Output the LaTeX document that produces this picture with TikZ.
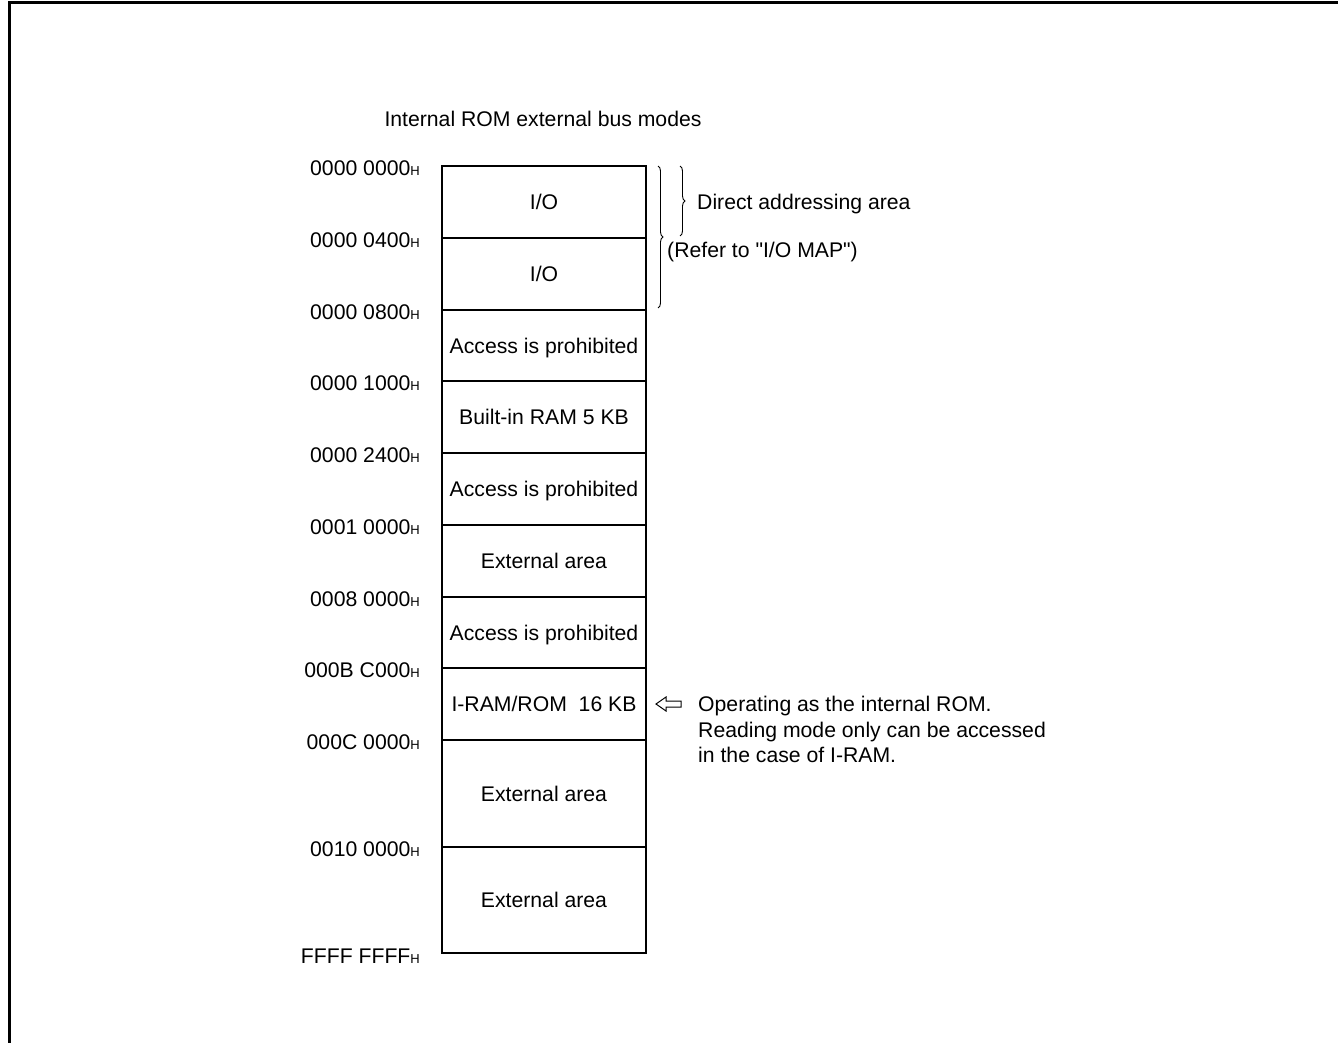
\documentclass[tikz,border=0pt]{standalone}
\usepackage{fontspec}
\setmainfont{Liberation Sans}
\usetikzlibrary{positioning, calc, decorations.pathreplacing}

\newcommand{\memfont}{\fontsize{21.2}{25.5}\selectfont}
\newcommand{\hsub}{{\fontsize{13}{13}\selectfont H}}

\tikzset{
  memrow/.style={draw, line width=1.6pt, minimum width=204pt, inner sep=0pt, outer sep=0pt,
                 text height=15pt, text depth=0pt, font=\memfont},
  addr/.style={anchor=east, inner sep=0pt, font=\memfont},
  note/.style={inner sep=0pt, font=\memfont, align=left},
  bracedeco/.style={decorate, decoration={brace, amplitude=5pt}, line width=0.9pt},
}

\begin{document}
\begin{tikzpicture}[x=1pt, y=-1pt]
    \useasboundingbox (0,0) rectangle (1338,1043);

    % Frame
    \draw[line width=3pt] (9,1060) -- (9,3) -- (1350,3);

    % Title
    \node[font=\memfont, inner sep=0pt] (title) at (543,119) {Internal ROM external bus modes};

    % Memory rows
    \node[memrow, minimum height=72pt] (r1) at (544,202) {I/O};
    \node[memrow, minimum height=72pt, below=0pt of r1] (r2) {I/O};
    \node[memrow, minimum height=71pt, below=0pt of r2] (r3) {Access is prohibited};
    \node[memrow, minimum height=72pt, below=0pt of r3] (r4) {Built-in RAM 5 KB};
    \node[memrow, minimum height=72pt, below=0pt of r4] (r5) {Access is prohibited};
    \node[memrow, minimum height=72pt, below=0pt of r5] (r6) {External area};
    \node[memrow, minimum height=71pt, below=0pt of r6] (r7) {Access is prohibited};
    \node[memrow, minimum height=72pt, below=0pt of r7] (r8) {I-RAM/ROM\ \ 16 KB};
    \node[memrow, minimum height=107pt, below=0pt of r8] (r9) {External area};
    \node[memrow, minimum height=106pt, below=0pt of r9] (r10) {External area};

    % Outer border
    \draw[line width=2.8pt] (r1.north west) rectangle (r10.south east);

    % Addresses
    \foreach \r/\addr in {r1/0000 0000, r2/0000 0400, r3/0000 0800, r4/0000 1000, r5/0000 2400,
                          r6/0001 0000, r7/0008 0000, r8/000B C000, r9/000C 0000, r10/0010 0000} {
        \node[addr] (a-\r) at ([xshift=-22pt, yshift=-2.5pt]\r.north west) {\addr\hsub};
    }
    \node[addr] (a-end) at ([xshift=-22pt, yshift=-3pt]r10.south west) {FFFF FFFF\hsub};

    % Braces
    \draw[bracedeco] ([xshift=12pt]r1.north east) -- ([xshift=12pt, yshift=2pt]r2.south east);
    \draw[bracedeco] ([xshift=34pt]r1.north east) -- ([xshift=34pt, yshift=2pt]r1.south east);
    \node[note, anchor=west] (direct) at (697,204) {Direct addressing area};
    \node[note, anchor=west] (refer) at (667,252) {(Refer to \textquotedbl I/O MAP\textquotedbl)};

    % Hollow arrow
    \draw[line width=1pt] ($(r8.east)+(10,0)$) coordinate (tip) -- ++(10,-7) -- ++(0,4) -- ++(15,0)
        -- ++(0,6) -- ++(-15,0) -- ++(0,4) -- cycle;
    \node[note, anchor=north west] (oper) at (698,696)
        {Operating as the internal ROM.\\Reading mode only can be accessed\\in the case of I-RAM.};

\end{tikzpicture}
\end{document}
